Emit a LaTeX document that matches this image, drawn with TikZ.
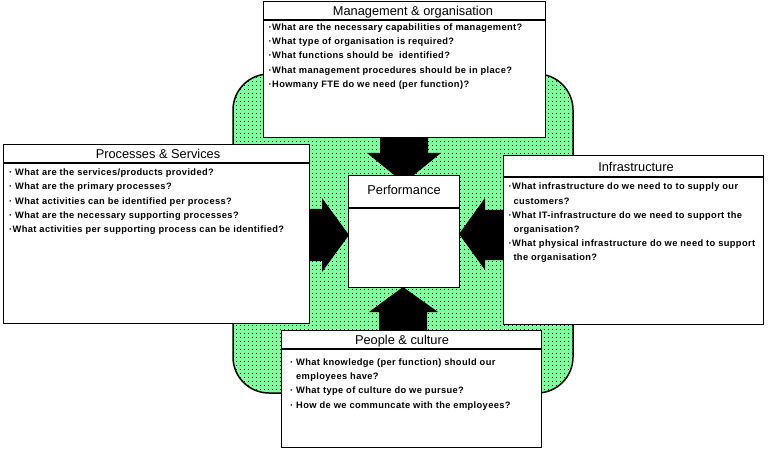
\documentclass[tikz,border=0pt]{standalone}
\usepackage{fontspec}
\setmainfont{Liberation Sans}
\newfontfamily\itemfont{Liberation Sans}[LetterSpace=4]
\usetikzlibrary{patterns.meta}
\definecolor{mint}{RGB}{128,255,160}
\tikzdeclarepattern{
  name=mintdots,
  type=uncolored,
  bottom left={(0pt,0pt)},
  top right={(4.3pt,4.3pt)},
  tile size={(4.3pt,4.3pt)},
  code={\fill (0pt,0pt) rectangle (1pt,1pt);}
}
\begin{document}
\begin{tikzpicture}[x=1pt,y=-1pt,
  box/.style={draw=black,fill=white,line width=1.2pt,rectangle,inner sep=0pt,anchor=north west},
  title/.style={font=\fontsize{12.8}{15}\selectfont,anchor=base,inner sep=0pt},
  item/.style={font=\itemfont\bfseries\fontsize{9.3}{12}\selectfont,anchor=base west,inner sep=0pt},
  blockarrow/.style={fill=black,draw=none}]
\useasboundingbox (0,0) rectangle (771,449);
% green background
\path[preaction={fill=mint},pattern=mintdots,pattern color=black,draw=black,line width=1.5pt,rounded corners=36pt]
  (233,74) rectangle (573,393);
% block arrows
\fill[blockarrow] (380,130) -- (428,130) -- (428,153) -- (441,153) -- (404,183) -- (367,153) -- (380,153) -- cycle;
\fill[blockarrow] (379,336) -- (427,336) -- (427,312) -- (438,312) -- (403,287) -- (369,312) -- (379,312) -- cycle;
\fill[blockarrow] (300,209) -- (322,209) -- (322,198) -- (349,235) -- (322,272) -- (322,261) -- (300,261) -- cycle;
\fill[blockarrow] (510,210) -- (485,210) -- (485,198) -- (459,234) -- (485,270) -- (485,260) -- (510,260) -- cycle;
% boxes
\node[box,minimum width=282pt,minimum height=136pt] (mgmt) at (263,1) {};
\draw[line width=1.2pt] (263,20) -- (545,20);
\node[box,minimum width=306pt,minimum height=179pt] (proc) at (3,144) {};
\draw[line width=1.2pt] (3,163) -- (309,163);
\node[box,minimum width=260pt,minimum height=169pt] (infra) at (503,155) {};
\draw[line width=1.2pt] (503,177) -- (763,177);
\node[box,minimum width=260pt,minimum height=117pt] (people) at (281,330) {};
\draw[line width=1.2pt] (281,349) -- (541,349);
\node[box,minimum width=111pt,minimum height=112pt] (perf) at (348,175) {};
\draw[line width=1.2pt] (348,208) -- (459,208);
% titles
\node[title] (tm) at (413,16) {Management \& organisation};
\node[title] (tp) at (158,158.3) {Processes \& Services};
\node[title] (ti) at (636,171.7) {Infrastructure};
\node[title] (tc) at (402,344) {People \& culture};
\node[title] (tf) at (404,195) {Performance};
% management items
\node[item] (m1) at (268.5,30.5) {·What are the necessary capabilities of management?};
\node[item] (m2) at (268.5,44.7) {·What type of organisation is required?};
\node[item] (m3) at (268.5,58.9) {·What functions should be \ identified?};
\node[item] (m4) at (268.5,73.1) {·What management procedures should be in place?};
\node[item] (m5) at (268.5,87.3) {·Howmany FTE do we need (per function)?};
% processes items
\node[item] (p1) at (9,175.5) {· What are the services/products provided?};
\node[item] (p2) at (9,189.8) {· What are the primary processes?};
\node[item] (p3) at (9,204.1) {· What activities can be identified per process?};
\node[item] (p4) at (9,218.4) {· What are the necessary supporting processes?};
\node[item] (p5) at (9,232.7) {·What activities per supporting process can be identified?};
% infrastructure items
\node[item] (i1) at (508.5,190) {·What infrastructure do we need to to supply our};
\node[item] (i2) at (513.3,204.2) {customers?};
\node[item] (i3) at (508.5,218.4) {·What IT-infrastructure do we need to support the};
\node[item] (i4) at (513.3,232.6) {organisation?};
\node[item] (i5) at (508.5,246.8) {·What physical infrastructure do we need to support};
\node[item] (i6) at (513.3,261) {the organisation?};
% people items
\node[item] (c1) at (290,365) {· What knowledge (per function) should our};
\node[item] (c2) at (296,379.4) {employees have?};
\node[item] (c3) at (290,393.8) {· What type of culture do we pursue?};
\node[item] (c4) at (290,408.2) {· How de we communcate with the employees?};
\end{tikzpicture}
\end{document}
